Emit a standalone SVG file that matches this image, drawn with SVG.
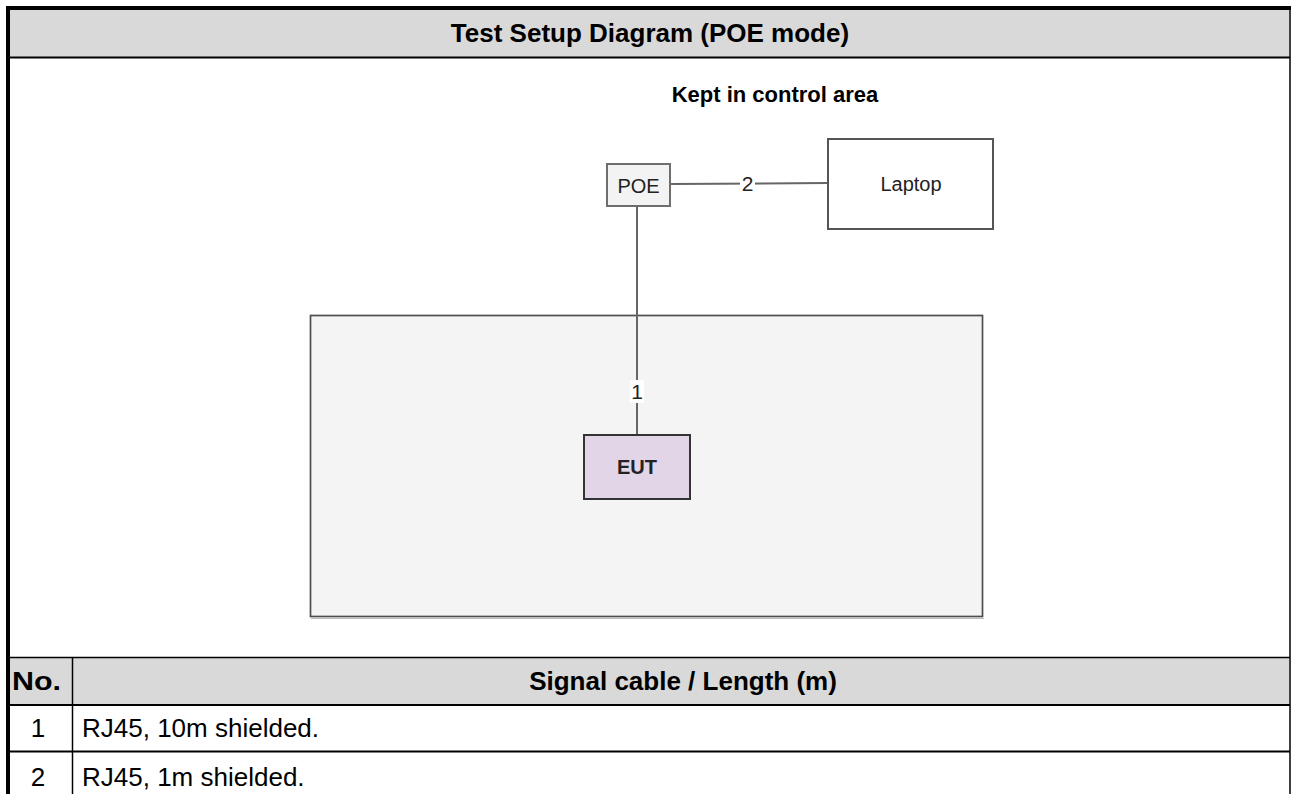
<svg xmlns="http://www.w3.org/2000/svg" width="1291" height="794" viewBox="0 0 1291 794">
<style>
.hdr{fill:#d9d9d9}
.tb{font-family:"Liberation Sans",Arial,sans-serif;font-size:26px;fill:#000}
.b{font-weight:bold}
.lbl{font-family:"Liberation Sans",Arial,sans-serif;font-size:20px;fill:#222}
.num{font-family:"Liberation Sans",Arial,sans-serif;font-size:21px;fill:#222}
.conn{stroke:#666;stroke-width:2;fill:none}
</style>
<rect width="1291" height="794" fill="#fff"/>
<g id="table">
<rect class="hdr" x="10" y="10" width="1279" height="47"/>
<rect class="hdr" x="10" y="658" width="1279" height="46"/>
<line x1="6" y1="8" x2="1291" y2="8" stroke="#000" stroke-width="4"/>
<line x1="10" y1="57.5" x2="1290" y2="57.5" stroke="#000" stroke-width="2"/>
<line x1="10" y1="657.5" x2="1290" y2="657.5" stroke="#000" stroke-width="1.5"/>
<line x1="10" y1="705" x2="1290" y2="705" stroke="#000" stroke-width="2"/>
<line x1="10" y1="751.5" x2="1290" y2="751.5" stroke="#000" stroke-width="2"/>
<line x1="8" y1="6" x2="8" y2="794" stroke="#000" stroke-width="4"/>
<line x1="1290" y1="6" x2="1290" y2="794" stroke="#000" stroke-width="1.5"/>
<line x1="72.5" y1="657" x2="72.5" y2="794" stroke="#000" stroke-width="1.5"/>
<text class="tb b" x="650" y="42" text-anchor="middle">Test Setup Diagram (POE mode)</text>
<text class="tb b" x="12" y="690" textLength="49" lengthAdjust="spacingAndGlyphs">No.</text>
<text class="tb b" x="683" y="690" text-anchor="middle">Signal cable / Length (m)</text>
<text class="tb" x="38" y="737" text-anchor="middle">1</text>
<text class="tb" x="82" y="737">RJ45, 10m shielded.</text>
<text class="tb" x="38" y="786" text-anchor="middle">2</text>
<text class="tb" x="82" y="786">RJ45, 1m shielded.</text>
</g>
<g id="area">
<rect x="310.5" y="315.5" width="672" height="301" fill="#f4f4f4" stroke="#4d4d4d" stroke-width="1.7"/>
<line x1="311" y1="618.5" x2="984" y2="618.5" stroke="#bbb" stroke-width="1"/>
<text x="775" y="102" text-anchor="middle" font-family="Liberation Sans, Arial, sans-serif" font-size="22" font-weight="bold" fill="#000">Kept in control area</text>
</g>
<g id="connectors">
<line class="conn" x1="671" y1="184" x2="828" y2="183"/>
<line class="conn" x1="637" y1="206" x2="637" y2="434"/>
<rect x="740" y="171" width="15" height="24" fill="#fff"/>
<text class="num" x="747.5" y="190.5" text-anchor="middle">2</text>
<rect x="630" y="380" width="14" height="23" fill="#fff"/>
<text class="num" x="637" y="398.5" text-anchor="middle">1</text>
</g>
<g id="poe">
<rect x="607" y="164" width="63" height="42" fill="#f3f3f3" stroke="#6e6e6e" stroke-width="2"/>
<text class="lbl" x="638.5" y="192.5" text-anchor="middle" fill="#333">POE</text>
</g>
<g id="laptop">
<rect x="828" y="139" width="165" height="90" fill="#fff" stroke="#555" stroke-width="2"/>
<text class="lbl" x="911" y="191" text-anchor="middle">Laptop</text>
</g>
<g id="eut">
<rect x="584" y="435" width="106" height="64" fill="#e1d5e7" stroke="#333" stroke-width="2"/>
<text class="lbl" x="637" y="474" text-anchor="middle" font-weight="bold" font-size="19">EUT</text>
</g>
</svg>
